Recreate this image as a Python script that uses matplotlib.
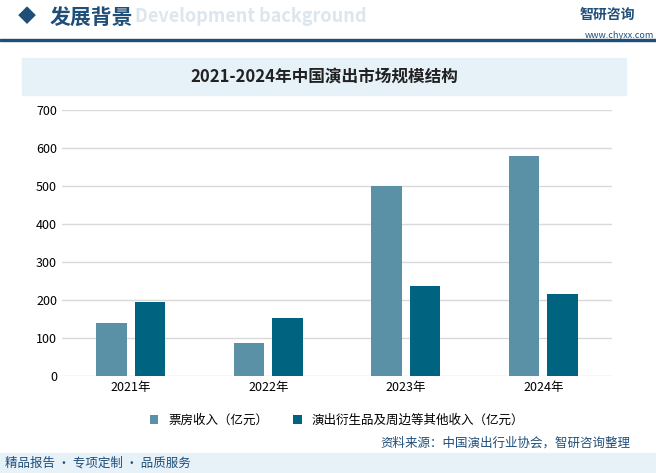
import numpy as np
import matplotlib.pyplot as plt
from matplotlib.patches import Rectangle

plt.rcParams['font.family'] = ['Noto Sans CJK SC']

years = ['2021年', '2022年', '2023年', '2024年']
box_office = [139.6, 87, 500, 580]
derived = [195, 153, 237, 216]
label_a = '票房收入（亿元）'
label_b = '演出衍生品及周边等其他收入（亿元）'

fig = plt.figure(figsize=(6.56, 4.73), dpi=100)
W, H = 656, 473

# header
fig.text(18 / W, 1 - 17 / H, '◆', color='#1f4e79', fontsize=13, va='center')
fig.text(50 / W, 1 - 17 / H, '发展背景', color='#1f4e79', fontsize=15, fontweight='bold', va='center')
fig.text(135 / W, 1 - 17 / H, 'Development background', color='#dde6ee', fontsize=13,
         fontweight='bold', va='center', zorder=0)
fig.text(580 / W, 1 - 15 / H, '智研咨询', color='#1f4e79', fontsize=10, fontweight='bold', va='center')
fig.text(585 / W, 1 - 35 / H, 'www.chyxx.com', color='#1f4e79', fontsize=6.5, va='center')
fig.add_artist(Rectangle((0, 1 - 41 / H), 1, 1.5 / H, color='#1f4e79', transform=fig.transFigure))

# title band
fig.add_artist(Rectangle((22 / W, 1 - 95 / H), 604 / W, 37 / H, color='#e6f1f8',
                         transform=fig.transFigure, zorder=0))
fig.text(324 / W, 1 - 77 / H, '2021-2024年中国演出市场规模结构', fontsize=12, fontweight='bold',
         ha='center', va='center', color='#222222')

# footer
fig.add_artist(Rectangle((0, 0), 1, 20 / H, color='#e6f1f8', transform=fig.transFigure, zorder=0))
fig.text(5 / W, 10 / H, '精品报告 · 专项定制 · 品质服务', fontsize=9, va='center', color='#1f4e79')
fig.text(380 / W, 30 / H, '资料来源：中国演出行业协会，智研咨询整理', fontsize=9, va='center', color='#1f4e79')

ax = fig.add_axes([62 / W, 1 - 376 / H, 550 / W, 266 / H])
x = np.arange(len(years))
w = 0.22
ax.bar(x - 0.14, box_office, w, color='#5b91a7', label=label_a, zorder=3)
ax.bar(x + 0.14, derived, w, color='#00637f', label=label_b, zorder=3)
ax.set_ylim(0, 700)
ax.set_yticks(range(0, 701, 100))
ax.set_xticks(x)
ax.set_xticklabels(years, fontsize=9)
ax.set_xlim(-0.5, 3.5)
ax.tick_params(axis='y', labelsize=9, length=0)
ax.tick_params(axis='x', length=0)
ax.grid(axis='y', color='#d9d9d9', linewidth=1, zorder=0)
for s in ax.spines.values():
    s.set_visible(False)
ax.legend(loc='upper center', bbox_to_anchor=(0.5, -0.1), ncol=2, frameon=False, fontsize=9,
          handlelength=0.7, handleheight=0.7, columnspacing=2)

fig.savefig('out.png', dpi=100)
